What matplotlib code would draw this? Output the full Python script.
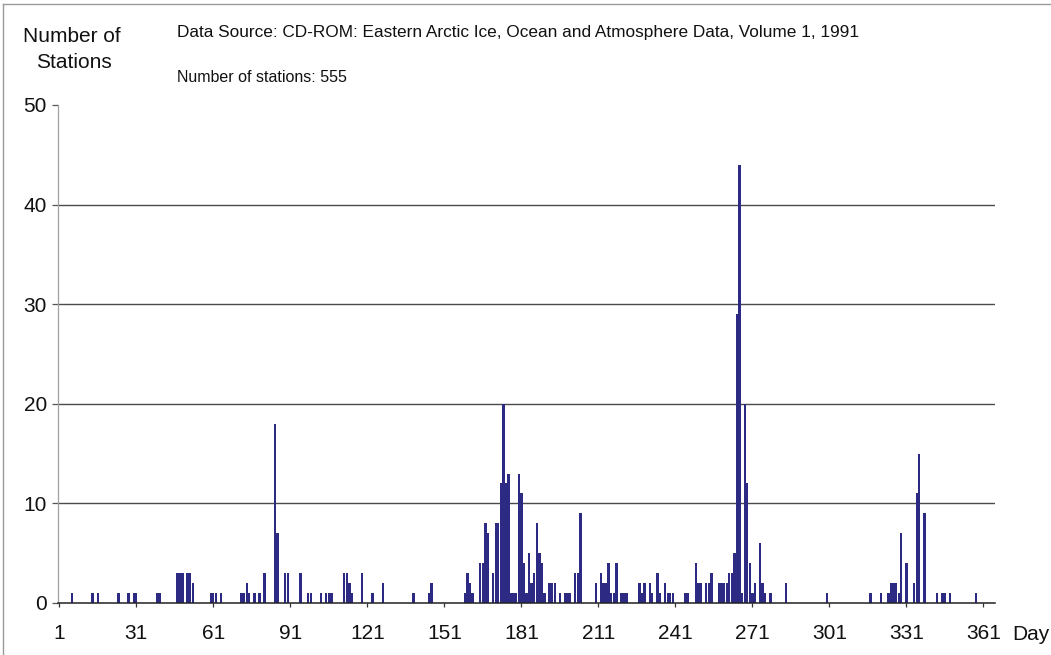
import matplotlib
matplotlib.use("Agg")
import matplotlib.pyplot as plt
from matplotlib.lines import Line2D

# Day of year on which stations were occupied, and the number of stations on each day
days = [6, 14, 16, 24, 28, 30, 31, 39, 40,
        47, 48, 49, 51, 52, 53,
        60, 61, 62, 64,
        72, 73, 74, 75, 77, 79, 81,
        85, 86, 89, 90, 95,
        98, 99, 103, 105, 106, 107,
        112, 113, 114, 115, 119, 123, 127,
        139, 145, 146,
        159, 160, 161, 162,
        165, 166, 167, 168, 170, 171, 172,
        173, 174, 175, 176, 177, 178, 179, 180, 181,
        182, 183, 184, 185, 186, 187, 188, 189,
        190, 192, 193, 194, 196, 198, 199, 200,
        202, 203, 204,
        210, 212, 213, 214, 215, 216, 217, 218,
        220, 221, 222, 227, 228, 229, 231, 232, 234, 235, 237, 238, 239, 240,
        245, 246, 249, 250, 251, 253, 254, 255,
        258, 259, 260, 261, 262, 263, 264,
        265, 266, 267, 268, 269, 270, 271, 272, 274, 275, 276, 278, 284,
        300, 317, 321, 324, 325, 326, 327, 328, 329, 331,
        334, 335, 336, 338,
        343, 345, 346, 348, 358]
stations = [1, 1, 1, 1, 1, 1, 1, 1, 1,
            3, 3, 3, 3, 3, 2,
            1, 1, 1, 1,
            1, 1, 2, 1, 1, 1, 3,
            18, 7, 3, 3, 3,
            1, 1, 1, 1, 1, 1,
            3, 3, 2, 1, 3, 1, 2,
            1, 1, 2,
            1, 3, 2, 1,
            4, 4, 8, 7, 3, 8, 8,
            12, 20, 12, 13, 1, 1, 1, 13, 11,
            4, 1, 5, 2, 3, 8, 5, 4,
            1, 2, 2, 2, 1, 1, 1, 1,
            3, 3, 9,
            2, 3, 2, 2, 4, 1, 1, 4,
            1, 1, 1, 2, 1, 2, 2, 1, 3, 1, 2, 1, 1, 1,
            1, 1, 4, 2, 2, 2, 2, 3,
            2, 2, 2, 2, 3, 3, 5,
            29, 44, 1, 20, 12, 4, 1, 2, 6, 2, 1, 1, 2,
            1, 1, 1, 1, 2, 2, 2, 1, 7, 4,
            2, 11, 15, 9,
            1, 1, 1, 1, 1]

x_tick_days = [1, 31, 61, 91, 121, 151, 181, 211, 241, 271, 301, 331, 361]
y_ticks = [0, 10, 20, 30, 40, 50]
grid_levels = [10, 20, 30, 40]

W, H = 1051, 655
fig = plt.figure(figsize=(W / 100, H / 100), dpi=100)
fig.patch.set_facecolor("white")

ax = fig.add_axes([58 / W, 1 - 603 / H, (995 - 58) / W, (603 - 105) / H])
ax.set_facecolor("white")

ax.hlines(grid_levels, 0.5, 365.5, colors="#4a4a4a", linewidth=1.0, zorder=1)
ax.bar(days, stations, width=0.92, color="#2d2a84", edgecolor="none", zorder=3)

ax.set_xlim(0.5, 365.5)
ax.set_ylim(0, 50)
ax.set_xticks(x_tick_days)
ax.set_yticks(y_ticks)

for side in ("top", "right"):
    ax.spines[side].set_visible(False)
ax.spines["left"].set_color("#a0a0a0")
ax.spines["left"].set_linewidth(0.9)
ax.spines["bottom"].set_color("#222222")
ax.spines["bottom"].set_linewidth(1.1)
ax.spines["bottom"].set_zorder(4)

ax.tick_params(axis="y", direction="out", length=4, width=0.9, color="#555555",
               pad=4, labelsize=15, labelcolor="#111111")
ax.tick_params(axis="x", direction="out", length=3, width=0.9, color="#333333",
               pad=12, labelsize=15, labelcolor="#111111")
for lab in ax.get_xticklabels() + ax.get_yticklabels():
    lab.set_fontfamily("Liberation Sans")

fig.text(72 / W, 1 - 37 / H, "Number of", ha="center", va="center",
         family="Liberation Sans", size=15, color="#111111")
fig.text(74 / W, 1 - 63 / H, "Stations", ha="center", va="center",
         family="Liberation Sans", size=15, color="#111111")
fig.text(177 / W, 1 - 33 / H,
         "Data Source: CD-ROM: Eastern Arctic Ice, Ocean and Atmosphere Data, Volume 1, 1991",
         ha="left", va="center", family="Liberation Sans", size=12.4, color="#111111")
fig.text(177 / W, 1 - 78 / H, "Number of stations: 555", ha="left", va="center",
         family="Liberation Sans", size=11.5, color="#111111")
fig.text(1012 / W, 1 - 634 / H, "Day", ha="left", va="center",
         family="Liberation Sans", size=15, color="#111111")

# thin frame along the top and left edges of the page
fig.add_artist(Line2D([3 / W, 1], [1 - 4 / H, 1 - 4 / H], transform=fig.transFigure,
                      color="#9a9a9a", linewidth=1.0))
fig.add_artist(Line2D([3 / W, 3 / W], [0, 1 - 4 / H], transform=fig.transFigure,
                      color="#9a9a9a", linewidth=1.0))

fig.savefig("out.png", dpi=100, facecolor="white")
